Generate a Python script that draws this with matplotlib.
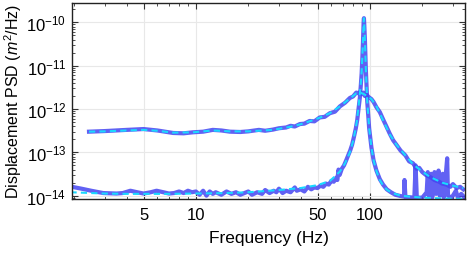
import numpy as np
import matplotlib
matplotlib.use("Agg")
import matplotlib.pyplot as plt
from matplotlib.ticker import FixedLocator, FixedFormatter, LogLocator, NullFormatter, LogFormatterSciNotation

plt.rcParams['font.family'] = ['Liberation Sans', 'DejaVu Sans']
plt.rcParams['mathtext.fontset'] = 'custom'
plt.rcParams['mathtext.rm'] = 'Liberation Sans'
plt.rcParams['mathtext.it'] = 'Liberation Sans:italic'

# broad resonance (low Q): measured
f_meas_b = [2.43, 3.0, 4.0, 5.0, 6.0, 7.4, 8.5, 9.6, 11, 12.5, 14, 15.7, 18, 20, 23, 25, 27.7, 30,
            33, 35, 37, 39.6, 42, 45, 48, 51.5, 55, 58.8, 63, 67.2, 72, 76.7, 80, 83.5, 86, 88, 90,
            92, 93.5, 96, 99, 102, 105, 109, 114, 119, 125, 130, 136, 142, 150, 160, 168, 177, 185,
            192, 200, 210, 222, 235, 250, 260, 275, 290, 300, 315, 330, 344]
psd_meas_b = [3.0e-13, 3.1e-13, 3.3e-13, 3.45e-13, 3.2e-13, 2.8e-13, 2.75e-13, 2.9e-13, 3.0e-13,
              3.3e-13, 3.2e-13, 3.0e-13, 2.95e-13, 3.05e-13, 3.3e-13, 3.15e-13, 3.35e-13, 3.6e-13,
              3.75e-13, 4.1e-13, 3.95e-13, 4.5e-13, 4.6e-13, 5.3e-13, 5.2e-13, 6.4e-13, 6.6e-13,
              8.0e-13, 8.7e-13, 1.15e-12, 1.4e-12, 1.8e-12, 1.95e-12, 2.4e-12, 2.3e-12, 2.5e-12,
              2.2e-12, 2.4e-12, 2.0e-12, 2.1e-12, 1.85e-12, 1.7e-12, 1.45e-12, 1.1e-12, 8.5e-13,
              5.8e-13, 3.8e-13, 2.7e-13, 1.9e-13, 1.5e-13, 1.1e-13, 8.5e-14, 6.2e-14, 5.6e-14,
              4.2e-14, 4.4e-14, 3.5e-14, 3.0e-14, 2.7e-14, 2.3e-14, 2.1e-14, 1.9e-14, 1.8e-14,
              1.6e-14, 1.85e-14, 1.5e-14, 1.6e-14, 1.4e-14]

# broad resonance: fit
f_fit_b = [2.43, 3.0, 4.0, 5.0, 6.0, 7.4, 9.6, 12.5, 15.7, 20, 27.7, 35, 39.6, 45, 51.5, 58.8,
           67.2, 76.7, 83.5, 88, 93.5, 102, 109, 119, 130, 142, 160, 177, 200, 222, 260, 300, 344]
psd_fit_b = [3.0e-13, 3.05e-13, 3.2e-13, 3.3e-13, 3.15e-13, 2.85e-13, 2.9e-13, 3.2e-13, 3.05e-13,
             3.05e-13, 3.3e-13, 3.9e-13, 4.4e-13, 5.2e-13, 6.3e-13, 8.0e-13, 1.15e-12, 1.75e-12,
             2.3e-12, 2.4e-12, 2.15e-12, 1.7e-12, 1.15e-12, 5.5e-13, 2.6e-13, 1.5e-13, 8.5e-14,
             5.3e-14, 3.6e-14, 2.7e-14, 2.0e-14, 1.7e-14, 1.5e-14]

# sharp resonance (high Q): measured
f_meas_n = [1.94, 2.2, 2.5, 2.93, 3.5, 3.8, 4.2, 4.6, 5.0, 5.5, 5.94, 6.5, 7, 7.5, 8, 8.5, 9, 9.5,
            10, 10.5, 11, 11.5, 12, 12.5, 13, 14, 15, 16, 17, 18, 19, 20, 21, 22.5, 24, 25, 26.5,
            28, 29, 30, 31.5, 33, 35, 37, 38, 40, 42, 44, 46, 48, 50, 52, 54, 56, 58, 60, 62, 64,
            65, 66, 67, 69, 71, 73, 75, 77, 79, 81, 83, 84.5, 86, 87.5, 88.6, 89.6, 90.4, 91.2,
            92, 92.4, 92.8, 93.6, 94.8, 96.5, 99, 102, 105, 109, 114, 119, 125, 132, 140, 150,
            157, 158, 160, 170, 180, 183, 186, 200, 212, 215, 218, 225, 228, 235, 240, 248, 252,
            262, 266, 278, 281, 295, 312, 320, 335, 350]
psd_meas_n = [1.6e-14, 1.45e-14, 1.3e-14, 1.15e-14, 1.12e-14, 1.15e-14, 1.3e-14, 1.2e-14, 1.12e-14,
              1.2e-14, 1.3e-14, 1.2e-14, 1.12e-14, 1.15e-14, 1.25e-14, 1.15e-14, 1.3e-14, 1.2e-14,
              1.25e-14, 1.05e-14, 1.3e-14, 1.0e-14, 1.25e-14, 1.1e-14, 1.2e-14, 1.05e-14, 1.25e-14,
              1.1e-14, 1.2e-14, 1.05e-14, 1.15e-14, 1.25e-14, 1.05e-14, 1.2e-14, 1.1e-14, 1.35e-14,
              1.15e-14, 1.3e-14, 1.2e-14, 1.45e-14, 1.15e-14, 1.3e-14, 1.2e-14, 1.55e-14, 1.3e-14,
              1.4e-14, 1.25e-14, 1.6e-14, 1.4e-14, 1.55e-14, 1.5e-14, 1.7e-14, 1.6e-14, 1.9e-14,
              1.8e-14, 2.2e-14, 2.1e-14, 2.6e-14, 2.3e-14, 4.0e-14, 3.0e-14, 4.2e-14, 5.0e-14,
              6.5e-14, 8.5e-14, 1.1e-13, 1.5e-13, 2.3e-13, 3.6e-13, 5.5e-13, 1.0e-12, 1.8e-12,
              3.4e-12, 6.5e-12, 1.4e-11, 3.5e-11, 1.0e-10, 1.25e-10, 9e-11, 4e-11, 8e-12, 1.5e-12,
              3.6e-13, 1.3e-13, 6.5e-14, 3.8e-14, 2.4e-14, 1.8e-14, 1.4e-14, 1.2e-14, 1.05e-14,
              9.8e-15, 9.5e-15, 2.3e-14, 9.4e-15, 9.2e-15, 9e-15, 5e-14, 9e-15, 9e-15, 1.2e-14,
              3.5e-14, 1e-14, 3.2e-14, 9e-15, 3.5e-14, 1.1e-14, 3.8e-14, 1e-14, 3.2e-14, 9e-15,
              7.3e-14, 1e-14, 9e-15, 1.3e-14, 9e-15, 1.1e-14, 9e-15]

# sharp resonance: fit
f_fit_n = [1.9, 2.5, 3, 4, 5, 7, 10, 15, 20, 30, 40, 50, 59, 67.2, 72, 76.7, 80, 82, 84, 85.7, 87,
           88.4, 89.5, 90.3, 91.2, 92, 92.4, 92.8, 93.6, 94.8, 96.5, 99.1, 102.3, 105, 109.3, 114,
           119.2, 126, 135, 150, 170, 200, 250, 300, 350]
psd_fit_n = [1.2e-14, 1.15e-14, 1.12e-14, 1.1e-14, 1.1e-14, 1.1e-14, 1.12e-14, 1.15e-14, 1.2e-14,
             1.35e-14, 1.5e-14, 1.75e-14, 2.2e-14, 3.6e-14, 5.6e-14, 1.0e-13, 1.8e-13, 2.9e-13,
             5e-13, 1.0e-12, 1.8e-12, 3.45e-12, 6.5e-12, 1.43e-11, 3.5e-11, 1.0e-10, 1.25e-10,
             9e-11, 4e-11, 8e-12, 1.5e-12, 3.5e-13, 1.2e-13, 6.5e-14, 3.6e-14, 2.3e-14, 1.7e-14,
             1.35e-14, 1.15e-14, 1.0e-14, 9.5e-15, 9e-15, 8.7e-15, 8.5e-15, 8.4e-15]

x_ticks = [5, 10, 50, 100]
x_minor = [2, 3, 4, 6, 7, 8, 9, 20, 30, 40, 60, 70, 80, 90, 200, 300]
y_ticks = [1e-14, 1e-13, 1e-12, 1e-11, 1e-10]
y_minor = [m * t for t in [1e-15, 1e-14, 1e-13, 1e-12, 1e-11, 1e-10] for m in range(2, 10)]

blue = (0.27, 0.27, 0.95)
cyan = (0.1, 0.85, 1.0)

fig = plt.figure(figsize=(4.69, 2.55), dpi=100)
ax = fig.add_axes([0.1535, 0.2176, 0.838, 0.7667])

for f, p in [(f_meas_b, psd_meas_b), (f_meas_n, psd_meas_n)]:
    ax.plot(f, p, color=blue, lw=3.0, alpha=0.85, solid_joinstyle='round')
for f, p in [(f_fit_b, psd_fit_b), (f_fit_n, psd_fit_n)]:
    ax.plot(f, p, color=cyan, lw=1.5, ls=(0, (3, 2)))

ax.set_xscale('log')
ax.set_yscale('log')
ax.set_xlim(1.94, 352)
ax.set_ylim(8.6e-15, 2.8e-10)

ax.xaxis.set_major_locator(FixedLocator(x_ticks))
ax.xaxis.set_major_formatter(FixedFormatter([str(t) for t in x_ticks]))
ax.xaxis.set_minor_locator(FixedLocator(x_minor))
ax.xaxis.set_minor_formatter(NullFormatter())
ax.yaxis.set_major_locator(FixedLocator(y_ticks))
ax.yaxis.set_major_formatter(LogFormatterSciNotation())
ax.yaxis.set_minor_locator(FixedLocator([v for v in y_minor if 8.6e-15 < v < 2.8e-10]))
ax.yaxis.set_minor_formatter(NullFormatter())

ax.tick_params(which='both', direction='in', top=True, right=True, color='#333333', labelsize=12)
ax.tick_params(which='major', length=4, width=0.8)
ax.tick_params(which='minor', length=2, width=0.6)
ax.tick_params(axis='x', pad=6)
ax.tick_params(axis='y', pad=4)

ax.grid(True, which='major', color='#e8e8e8', lw=0.8)
ax.set_axisbelow(True)
for s in ax.spines.values():
    s.set_color('#222222')
    s.set_linewidth(1.0)

ax.set_xlabel('Frequency (Hz)', fontsize=12.5, labelpad=6)
ax.set_ylabel('Displacement PSD ($m^2$/Hz)', fontsize=11.5, labelpad=2)

fig.savefig('out.png', dpi=100)
